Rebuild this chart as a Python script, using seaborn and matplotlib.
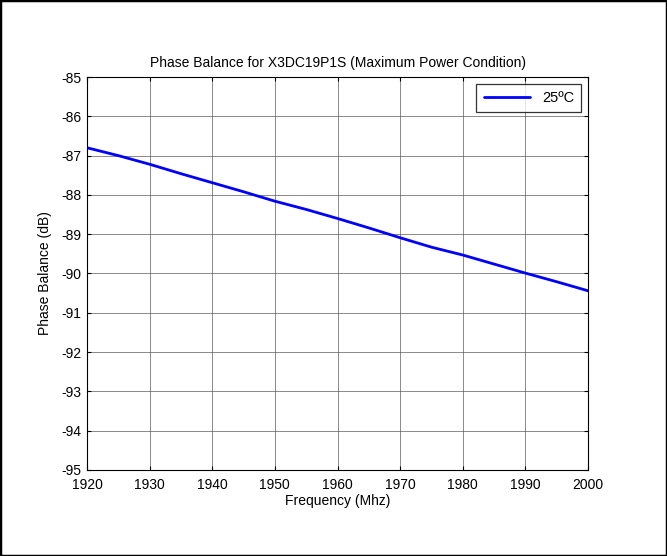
import numpy as np
import pandas as pd
import matplotlib
matplotlib.use("Agg")
import matplotlib.pyplot as plt
import seaborn as sns

# data
freq = [1920, 1925, 1930, 1935, 1940, 1945, 1950, 1955, 1960,
        1965, 1970, 1975, 1980, 1985, 1990, 1995, 2000]
phase_25c = [-86.80, -87.00, -87.22, -87.46, -87.69, -87.92, -88.16, -88.37, -88.60,
             -88.84, -89.09, -89.33, -89.53, -89.76, -89.99, -90.21, -90.44]
x_ticks = [1920, 1930, 1940, 1950, 1960, 1970, 1980, 1990, 2000]
y_ticks = [-85, -86, -87, -88, -89, -90, -91, -92, -93, -94, -95]

df = pd.DataFrame({"Frequency": freq, "Phase": phase_25c})

sns.set_theme(style="white")
plt.rcParams["font.family"] = ["Liberation Sans", "DejaVu Sans"]
plt.rcParams["font.size"] = 10
plt.rcParams["axes.unicode_minus"] = False
plt.rcParams["text.color"] = "black"
plt.rcParams["axes.labelcolor"] = "black"

fig = plt.figure(figsize=(6.67, 5.56), dpi=100)
fig.patches.append(plt.Rectangle((0, 0), 1, 1, transform=fig.transFigure,
                                 fill=False, edgecolor="black", linewidth=2.5))
ax = fig.add_axes([0.1304, 0.1547, 0.7512, 0.7068])

sns.lineplot(df, x="Frequency", y="Phase", ax=ax, color="#0000ff",
             linewidth=2, label="25ºC")

ax.set_xlim(1920, 2000)
ax.set_ylim(-95, -85)
ax.set_xticks(x_ticks)
ax.set_yticks(y_ticks)
ax.grid(True, color="#555555", linewidth=0.6, alpha=0.8)
for s in ax.spines.values():
    s.set_color("black")
    s.set_linewidth(0.8)
ax.tick_params(direction="in", length=3, width=0.8, top=True, right=True,
               bottom=True, left=True, labelsize=10, colors="black", pad=4)
ax.tick_params(axis="x", pad=6)

ax.set_title("Phase Balance for X3DC19P1S (Maximum Power Condition)", fontsize=10,
             pad=7, color="black")
ax.set_xlabel("Frequency (Mhz)", fontsize=10, labelpad=1)
ax.set_ylabel("Phase Balance (dB)", fontsize=10, labelpad=7)

leg = ax.legend(loc="upper right", fontsize=10.5, frameon=True, fancybox=False,
                borderaxespad=0.45, handlelength=3.2, borderpad=0.5)
leg.get_frame().set_edgecolor("black")
leg.get_frame().set_linewidth(0.9)

fig.savefig("out.png", dpi=100)
